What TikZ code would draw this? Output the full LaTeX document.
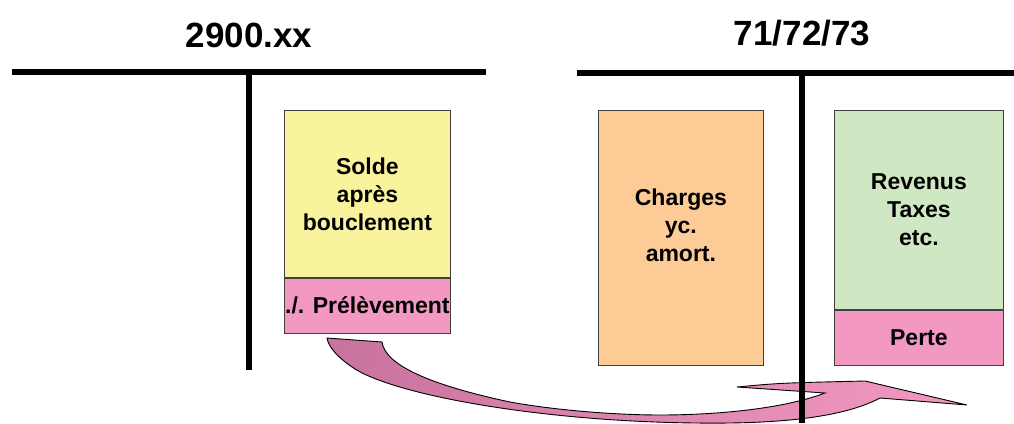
\documentclass[tikz,border=0pt]{standalone}
\usepackage{fontspec}
\setmainfont{Liberation Sans}

\definecolor{soldeyellow}{RGB}{250,243,157}
\definecolor{prelpink}{RGB}{243,153,193}
\definecolor{chargeorange}{RGB}{253,203,150}
\definecolor{revgreen}{RGB}{208,231,196}
\definecolor{arrowdark}{RGB}{200,115,158}

\tikzset{
  tline/.style={line width=5.5pt},
  acct/.style={draw=black!75, line width=0.8pt, inner sep=0pt, anchor=north west,
    align=center, font=\bfseries\fontsize{23}{28}\selectfont},
  ttl/.style={font=\bfseries\fontsize{35}{40}\selectfont},
}

\begin{document}
\begin{tikzpicture}[x=1pt, y=-1pt]
  \useasboundingbox (0,0) rectangle (1014,423);

  % transfer arrow
  \draw[black, line width=0.9pt, left color=arrowdark, right color=prelpink]
    (327,338) -- (382,342)
    .. controls (385,365) and (430,385) .. (510,402)
    .. controls (560,411) and (620,415) .. (660,415)
    .. controls (710,415) and (780,410) .. (825,393)
    -- (737,387)
    .. controls (780,383) .. (865,381)
    -- (967,405)
    -- (880,398)
    .. controls (850,414) and (800,422) .. (730,423)
    .. controls (560,425) and (400,397) .. (355,369)
    .. controls (335,356) and (328,345) .. (327,338) -- cycle;

  \begin{scope}
    % account 2900.xx
    \node[ttl] (t2900) at (249,35) {2900.xx};
    \draw[tline] (12,72) -- (486,72);
    \draw[tline] (249,72) -- (249,370);

    \node[acct, fill=soldeyellow, minimum width=166pt, minimum height=167pt]
      (solde) at (284,110) {Solde\\après\\bouclement};
    \node[acct, fill=prelpink, minimum width=166pt, minimum height=55pt, anchor=north]
      (prel) at (solde.south) {./. Prélèvement};
  \end{scope}

  \begin{scope}
    % accounts 71/72/73
    \node[ttl] (t717273) at (802,33) {71/72/73};

    \node[acct, fill=chargeorange, minimum width=165pt, minimum height=255pt]
      (charges) at (598,110) {};
    \node[font=\bfseries\fontsize{23}{28}\selectfont, align=center]
      (chargestxt) at ([yshift=13pt]charges.center) {Charges\\yc.\\amort.};

    \node[acct, fill=revgreen, minimum width=169pt, minimum height=199pt]
      (revenus) at (834,110) {Revenus\\Taxes\\etc.};
    \node[acct, fill=prelpink, minimum width=169pt, minimum height=55pt, anchor=north]
      (perte) at (revenus.south) {Perte};

    \draw[tline] (577,73) -- (1014,73);
    \draw[tline] (802,73) -- (802,423);
  \end{scope}
\end{tikzpicture}
\end{document}
